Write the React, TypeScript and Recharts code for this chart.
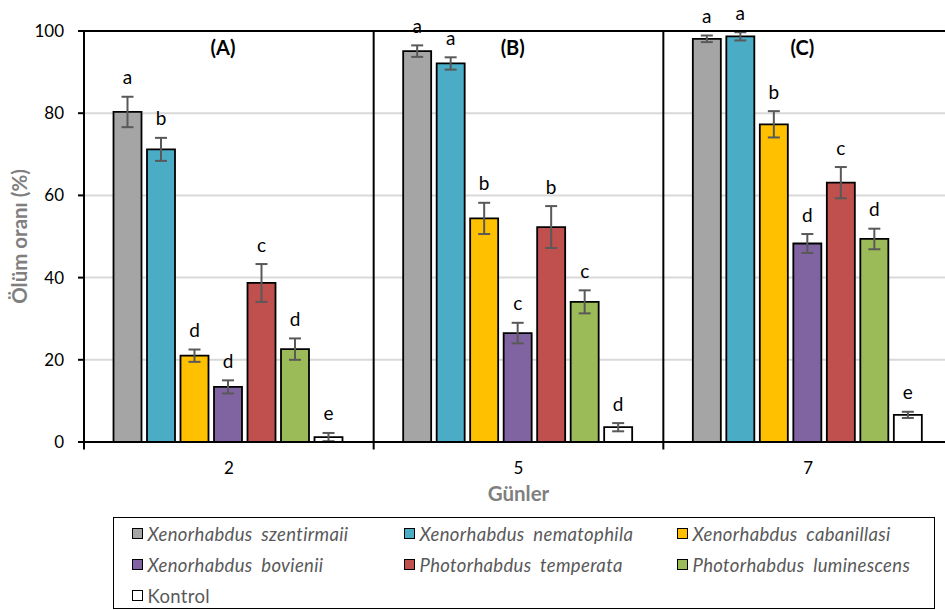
import React from 'react';
import {
  BarChart, Bar, XAxis, YAxis, CartesianGrid, ErrorBar, LabelList,
  ReferenceLine, ReferenceDot, Legend,
} from 'recharts';

// ---- data ----
const days = ['2', '5', '7'];
const panelTitles = ['(A)', '(B)', '(C)'];
const yTicks = [0, 20, 40, 60, 80, 100];

const seriesNames = [
  'Xenorhabdus szentirmaii',
  'Xenorhabdus nematophila',
  'Xenorhabdus cabanillasi',
  'Xenorhabdus bovienii',
  'Photorhabdus temperata',
  'Photorhabdus luminescens',
  'Kontrol',
];
const seriesColors = ['#A5A5A5', '#4BACC6', '#FFC000', '#8064A2', '#C0504D', '#9BBB59', '#FFFFFF'];
const seriesItalic = [true, true, true, true, true, true, false];

const szentirmaii = [80.3, 95.1, 98.1];
const szentirmaiiErr = [3.7, 1.4, 0.8];
const szentirmaiiLetters = ['a', 'a', 'a'];

const nematophila = [71.2, 92.1, 98.7];
const nematophilaErr = [2.8, 1.5, 1.0];
const nematophilaLetters = ['b', 'a', 'a'];

const cabanillasi = [21.0, 54.4, 77.3];
const cabanillasiErr = [1.5, 3.8, 3.2];
const cabanillasiLetters = ['d', 'b', 'b'];

const bovienii = [13.4, 26.5, 48.3];
const bovieniiErr = [1.6, 2.5, 2.3];
const bovieniiLetters = ['d', 'c', 'd'];

const temperata = [38.7, 52.3, 63.1];
const temperataErr = [4.6, 5.1, 3.8];
const temperataLetters = ['c', 'b', 'c'];

const luminescens = [22.6, 34.1, 49.4];
const luminescensErr = [2.6, 2.8, 2.5];
const luminescensLetters = ['d', 'c', 'd'];

const kontrol = [1.2, 3.6, 6.6];
const kontrolErr = [1.0, 1.0, 0.75];
const kontrolLetters = ['e', 'd', 'e'];

const seriesValues = [szentirmaii, nematophila, cabanillasi, bovienii, temperata, luminescens, kontrol];
const seriesErrors = [szentirmaiiErr, nematophilaErr, cabanillasiErr, bovieniiErr, temperataErr, luminescensErr, kontrolErr];
const seriesLetters = [szentirmaiiLetters, nematophilaLetters, cabanillasiLetters, bovieniiLetters, temperataLetters, luminescensLetters, kontrolLetters];

const data = days.map((day, i) => {
  const row: Record<string, any> = { day, mid: i + 0.5 };
  seriesValues.forEach((vals, s) => {
    row[`s${s}`] = vals[i];
    row[`s${s}e`] = seriesErrors[s][i];
  });
  return row;
});

const FONT = 'Lato, "Open Sans", sans-serif';

const makeLetterLabel = (letters: string[], errs: number[]) => (props: any) => {
  const { x, y, width, height, index, value } = props;
  const v = Number(value);
  const pxPerUnit = v ? Math.abs(height) / v : 0;
  const top = Number(y) - errs[index] * pxPerUnit;
  return (
    <text
      x={Number(x) + Number(width) / 2}
      y={top - 20}
      textAnchor="middle"
      dominantBaseline="central"
      fontSize={19}
      fill="#000"
      fontFamily={FONT}
    >
      {letters[index]}
    </text>
  );
};

const LegendBox = () => {
  return (
    <div
      style={{
        border: '1.5px solid #000',
        boxSizing: 'border-box',
        width: 822,
        height: 92,
        paddingTop: 0,
        paddingLeft: 17.5,
        display: 'grid',
        gridTemplateColumns: '272px 273px 1fr',
        gridAutoRows: '31px',
        fontFamily: FONT,
      }}
    >
      {seriesNames.map((name, i) => (
        <div
          key={name}
          style={{
            display: 'flex',
            alignItems: 'center',
            whiteSpace: 'nowrap',
          }}
        >
          <span
            style={{
              display: 'inline-block',
              flex: '0 0 auto',
              width: 9,
              height: 9,
              background: seriesColors[i],
              border: '1.5px solid #000',
              marginRight: 5,
            }}
          />
          <span
            style={{
              fontSize: 18.5,
              color: '#595959',
              fontStyle: seriesItalic[i] ? 'italic' : 'normal',
              letterSpacing: 0.35,
              wordSpacing: 4,
            }}
          >
            {name}
          </span>
        </div>
      ))}
    </div>
  );
};

const YTitle = (props: any) => {
  const vb = props.viewBox || {};
  const cx = vb.x + 19;
  const cy = vb.y + vb.height / 2;
  return (
    <text
      x={cx}
      y={cy}
      transform={`rotate(-90, ${cx}, ${cy})`}
      textAnchor="middle"
      dominantBaseline="central"
      fontSize={20.5}
      fontWeight="bold"
      fill="#7F7F7F"
      fontFamily={FONT}
    >
      Ölüm oranı (%)
    </text>
  );
};

export default function App() {
  return (
    <div style={{ position: 'absolute', left: 0, top: 0, width: 945, height: 610, overflow: 'hidden', fontFamily: FONT }}>
      <BarChart
        width={960}
        height={610}
        data={data}
        margin={{ top: 31, right: 7, left: 0, bottom: 103 }}
        barCategoryGap={29.5}
        barGap={5.5}
      >
        <CartesianGrid vertical={false} stroke="#D9D9D9" strokeWidth={2} />
        <XAxis
          dataKey="day"
          height={65}
          tickLine={false}
          axisLine={{ stroke: '#000', strokeWidth: 2 }}
          tick={{ fontSize: 17, fill: '#000' }}
          tickSize={6}
          tickMargin={14}
          label={{ value: 'Günler', position: 'insideBottom', offset: 6, fontSize: 20.5, fontWeight: 'bold', fill: '#7F7F7F' }}
        />
        <XAxis
          xAxisId="num"
          dataKey="mid"
          type="number"
          domain={[0, days.length]}
          hide
          allowDataOverflow
        />
        <YAxis
          width={84}
          domain={[0, 100]}
          ticks={yTicks}
          interval={0}
          tickSize={6}
          tickMargin={14}
          tickLine={{ stroke: '#000', strokeWidth: 2 }}
          axisLine={{ stroke: '#000', strokeWidth: 2 }}
          tick={{ fontSize: 17, fill: '#000' }}
          label={<YTitle />}
        />
        {seriesNames.map((name, s) => (
          <Bar
            key={name}
            dataKey={`s${s}`}
            name={name}
            fill={seriesColors[s]}
            stroke="#000"
            strokeWidth={1.8}
            isAnimationActive={false}
          >
            <ErrorBar dataKey={`s${s}e`} width={6} stroke="#595959" strokeWidth={2} direction="y" />
            <LabelList content={makeLetterLabel(seriesLetters[s], seriesErrors[s])} />
          </Bar>
        ))}
        <ReferenceLine y={100} stroke="#000" strokeWidth={2} ifOverflow="visible" />
        {days.map((d, i) => (
          <ReferenceLine
            key={`sep${d}`}
            xAxisId="num"
            segment={[{ x: i, y: -1.8 }, { x: i, y: 100 }]}
            stroke="#000"
            strokeWidth={2}
            ifOverflow="visible"
          />
        ))}
        {panelTitles.map((t, i) => (
          <ReferenceDot
            key={t}
            xAxisId="num"
            x={i + 0.48}
            y={96}
            r={0}
            fill="none"
            stroke="none"
            ifOverflow="visible"
            label={{ value: t, position: 'center', fontSize: 20, fontWeight: 'bold', fill: '#000' }}
          />
        ))}
        <Legend
          layout="horizontal"
          verticalAlign="middle"
          align="center"
          wrapperStyle={{ left: 113, top: 517, width: 822, height: 92 }}
          content={<LegendBox />}
        />
      </BarChart>
    </div>
  );
}
